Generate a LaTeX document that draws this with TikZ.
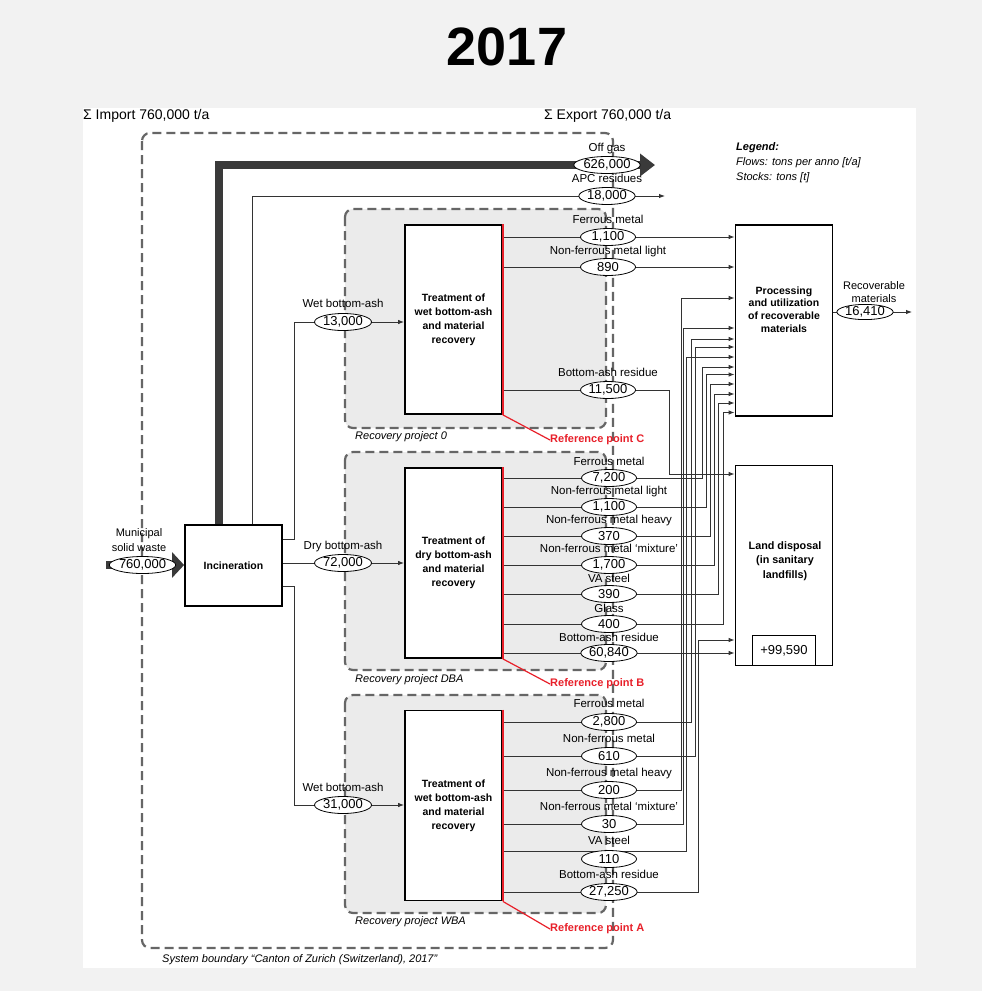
\documentclass[tikz,border=0pt]{standalone}
\usepackage{fontspec}
\setmainfont{Liberation Sans}
\usetikzlibrary{shapes.geometric,arrows.meta}
\definecolor{bggray}{HTML}{F2F2F2}
\definecolor{boxgray}{HTML}{EBEBEB}
\definecolor{dashgray}{HTML}{666666}
\definecolor{linegray}{HTML}{333333}
\definecolor{thickgray}{HTML}{3A3A3A}
\definecolor{refred}{HTML}{E8202A}
\pgfdeclarelayer{back}
\pgfdeclarelayer{wires}
\pgfsetlayers{back,wires,main}
\begin{document}
\begin{tikzpicture}[x=1pt,y=-1pt,
  procbox/.style={draw, line width=1.8pt, fill=white, align=center, inner sep=0pt,
    font=\bfseries\fontsize{10.5}{14}\selectfont},
  boxtxt/.style={align=center, inner sep=0pt, font=\bfseries\fontsize{10.5}{14}\selectfont},
  val/.style={ellipse, draw, line width=0.8pt, fill=white, inner sep=0pt,
    minimum width=55pt, minimum height=17pt, font=\fontsize{13}{13}\selectfont},
  lbl/.style={font=\fontsize{11.5}{12}\selectfont, inner sep=0pt, text height=8.3pt, text depth=2.4pt},
  lbl2/.style={align=center, inner sep=0pt, font=\fontsize{11.5}{13.5}\selectfont},
  flow/.style={draw=linegray, line width=0.9pt},
  arr/.style={-{Latex[length=6pt,width=4.5pt]}},
  recbox/.style={draw=dashgray, fill=boxgray, dash pattern=on 9pt off 5pt, line width=2.2pt, rounded corners=8pt},
  sysbox/.style={draw=dashgray, dash pattern=on 9pt off 5pt, line width=2.2pt, rounded corners=8pt},
  reflbl/.style={text=refred, font=\bfseries\fontsize{11}{12}\selectfont, anchor=west, inner sep=0pt},
  itlbl/.style={font=\itshape\fontsize{11}{12}\selectfont, anchor=west, inner sep=0pt},
  refline/.style={draw=refred, line width=1.2pt}
]
\useasboundingbox (0,0) rectangle (982,991);
\begin{pgfonlayer}{back}
\fill[bggray] (0,0) rectangle (982,991);
\fill[white] (83,108) rectangle (916,968);
\draw[sysbox] (142,133) rectangle (613,948);
\draw[recbox] (345,209) rectangle (606,428);
\draw[recbox] (345,452) rectangle (606,670);
\draw[recbox] (345,695) rectangle (606,913);
\end{pgfonlayer}

% title and headers
\node[font=\bfseries\fontsize{54}{54}\selectfont] (title) at (507,47) {2017};
\node[anchor=west, inner sep=0pt, font=\fontsize{14}{14}\selectfont] (imp) at (83,116) {Σ Import 760,000 t/a};
\node[anchor=west, inner sep=0pt, font=\fontsize{14}{14}\selectfont] (exp) at (544,116) {Σ Export 760,000 t/a};

% legend
\node[itlbl, font=\bfseries\itshape\fontsize{11}{12}\selectfont] (leg1) at (736,148) {Legend:};
\node[itlbl] (leg2) at (736,163) {Flows: tons per anno [t/a]};
\node[itlbl] (leg3) at (736,178) {Stocks: tons [t]};

% process boxes
\node[procbox, minimum width=97pt, minimum height=81pt] (inc) at (233.5,565.5) {Incineration};
\node[procbox, minimum width=97pt, minimum height=189pt] (bC) at (453.5,319.5) {Treatment of\\wet bottom-ash\\and material\\recovery};
\node[procbox, minimum width=97pt, minimum height=190pt] (bB) at (453.5,563) {Treatment of\\dry bottom-ash\\and material\\recovery};
\node[procbox, minimum width=97pt, minimum height=190pt] (bA) at (453.5,805.5) {Treatment of\\wet bottom-ash\\and material\\recovery};
\node[procbox, minimum width=97pt, minimum height=191pt] (proc) at (784,320.5) {};
\node[boxtxt, font=\bfseries\fontsize{10.5}{12.8}\selectfont] (proctxt) at (784,309.5) {Processing\\and utilization\\of recoverable\\materials};
\node[procbox, minimum width=97pt, minimum height=200pt] (land) at (784,565.5) {};
\node[boxtxt, font=\bfseries\fontsize{10.8}{14.5}\selectfont] (landtxt) at (785,561) {Land disposal\\(in sanitary\\landfills)};
\node[draw, line width=1pt, fill=white, minimum width=63pt, minimum height=30pt, inner sep=0pt, font=\fontsize{13}{13}\selectfont, anchor=south] (stock) at (land.south) {+99,590};

% red reference edges
\draw[refred, line width=1.5pt] (bC.north east) -- (bC.south east);
\draw[refred, line width=1.5pt] (bB.north east) -- (bB.south east);
\draw[refred, line width=1.5pt] (bA.north east) -- (bA.south east);
\node[reflbl] (refC) at (550,440) {Reference point C};
\node[reflbl] (refB) at (550,684) {Reference point B};
\node[reflbl] (refA) at (550,929) {Reference point A};
\draw[refline] (bC.south east) -- (refC.west);
\draw[refline] (bB.south east) -- (refB.west);
\draw[refline] (bA.south east) -- (refA.west);

% group labels
\node[itlbl] (rp0) at (355,437) {Recovery project 0};
\node[itlbl] (rpd) at (355,680) {Recovery project DBA};
\node[itlbl] (rpw) at (355,922) {Recovery project WBA};
\node[itlbl] (sysl) at (162,960) {System boundary “Canton of Zurich (Switzerland), 2017”};

% value ellipses
\node[val, minimum width=60pt] (msw) at (142.5,565) {760,000};
\node[val, minimum width=62pt] (off) at (607,165) {626,000};
\node[val] (apc) at (607,196) {18,000};
\node[val, minimum width=57pt] (w13) at (343,322) {13,000};
\node[val, minimum width=57pt] (w72) at (343,563) {72,000};
\node[val, minimum width=57pt] (w31) at (343,805) {31,000};
\node[val] (c1) at (608,237) {1,100};
\node[val] (c2) at (608,267) {890};
\node[val] (c3) at (608,390) {11,500};
\node[val] (d1) at (609,478) {7,200};
\node[val] (d2) at (609,507) {1,100};
\node[val] (d3) at (609,536) {370};
\node[val] (d4) at (609,565) {1,700};
\node[val] (d5) at (609,594) {390};
\node[val] (d6) at (609,624) {400};
\node[val] (d7) at (609,653) {60,840};
\node[val] (a1) at (609,722) {2,800};
\node[val] (a2) at (609,756) {610};
\node[val] (a3) at (609,790) {200};
\node[val] (a4) at (609,824) {30};
\node[val] (a5) at (609,859) {110};
\node[val] (a6) at (609,892) {27,250};
\node[val, minimum width=47pt, minimum height=15pt] (rec) at (865,312) {16,410};

% flow labels
\node[lbl2, font=\fontsize{11}{15}\selectfont] (lmsw) at (139,540.5) {Municipal\\solid waste};
\node[lbl] (loff) at (607,149) {Off gas};
\node[lbl] (lapc) at (607,180) {APC residues};
\node[lbl] (lw13) at (343,305) {Wet bottom-ash};
\node[lbl] (lw72) at (343,547) {Dry bottom-ash};
\node[lbl] (lw31) at (343,789) {Wet bottom-ash};
\node[lbl] (lc1) at (608,221) {Ferrous metal};
\node[lbl] (lc2) at (608,252) {Non-ferrous metal light};
\node[lbl] (lc3) at (608,374) {Bottom-ash residue};
\node[lbl] (ld1) at (609,463) {Ferrous metal};
\node[lbl] (ld2) at (609,492) {Non-ferrous metal light};
\node[lbl] (ld3) at (609,521) {Non-ferrous metal heavy};
\node[lbl] (ld4) at (609,550) {Non-ferrous metal ‘mixture’};
\node[lbl] (ld5) at (609,580) {VA steel};
\node[lbl] (ld6) at (609,610) {Glass};
\node[lbl] (ld7) at (609,639) {Bottom-ash residue};
\node[lbl] (la1) at (609,705) {Ferrous metal};
\node[lbl] (la2) at (609,740) {Non-ferrous metal};
\node[lbl] (la3) at (609,774) {Non-ferrous metal heavy};
\node[lbl] (la4) at (609,808) {Non-ferrous metal ‘mixture’};
\node[lbl] (la5) at (609,842) {VA steel};
\node[lbl] (la6) at (609,876) {Bottom-ash residue};
\node[lbl2, font=\fontsize{11}{13}\selectfont] (lrec) at (874,292) {Recoverable\\materials};

% free ends
\coordinate (mswstart) at (106,565);
\coordinate (offcorner) at (219,165);
\coordinate (offend) at (655,165);
\coordinate (apccorner) at (252,196);
\coordinate (apcend) at (665,196);
\coordinate (recend) at (912,312);

\begin{pgfonlayer}{wires}
% incineration input / outputs
\draw[thickgray, line width=8pt, -{Triangle[length=12pt,width=25pt]}] (mswstart) -- (inc.west |- mswstart);
\draw[thickgray, line width=8pt, -{Triangle[length=15pt,width=22pt]}] (inc.north -| offcorner) |- (offend);
\draw[flow, arr] (inc.north -| apccorner) |- (apcend);
\draw[flow, arr] (inc.east |- 0,539) -| (294,322) -- (bC.west |- w13);
\draw[flow, arr] (inc.east |- w72) -- (bB.west |- w72);
\draw[flow, arr] (inc.east |- 0,586) -| (294,805) -- (bA.west |- w31);
% recovery project 0
\draw[flow, arr] (bC.east |- c1) -- (proc.west |- c1);
\draw[flow, arr] (bC.east |- c2) -- (proc.west |- c2);
\draw[flow, arr] (bC.east |- c3) -| (669,474) -- (land.west |- 0,474);
% recovery project DBA
\draw[flow, arr] (bB.east |- d1) -| (702,367) -- (proc.west |- 0,367);
\draw[flow, arr] (bB.east |- d2) -| (706,374.5) -- (proc.west |- 0,374.5);
\draw[flow, arr] (bB.east |- d3) -| (710,384) -- (proc.west |- 0,384);
\draw[flow, arr] (bB.east |- d4) -| (714,394) -- (proc.west |- 0,394);
\draw[flow, arr] (bB.east |- d5) -| (718.5,403) -- (proc.west |- 0,403);
\draw[flow, arr] (bB.east |- d6) -| (723,412.5) -- (proc.west |- 0,412.5);
\draw[flow, arr] (bB.east |- d7) -- (land.west |- d7);
% recovery project WBA
\draw[flow, arr] (bA.east |- a1) -| (691,339) -- (proc.west |- 0,339);
\draw[flow, arr] (bA.east |- a2) -| (695,347) -- (proc.west |- 0,347);
\draw[flow, arr] (bA.east |- a3) -| (681,298) -- (proc.west |- 0,298);
\draw[flow, arr] (bA.east |- a4) -| (683.5,328) -- (proc.west |- 0,328);
\draw[flow, arr] (bA.east |- 0,851) -| (686.5,357) -- (proc.west |- 0,357);
\draw[flow, arr] (bA.east |- a6) -| (698.5,640) -- (land.west |- 0,640);
% recoverable materials
\draw[flow, arr] (proc.east |- rec) -- (recend);
\end{pgfonlayer}
\end{tikzpicture}
\end{document}
